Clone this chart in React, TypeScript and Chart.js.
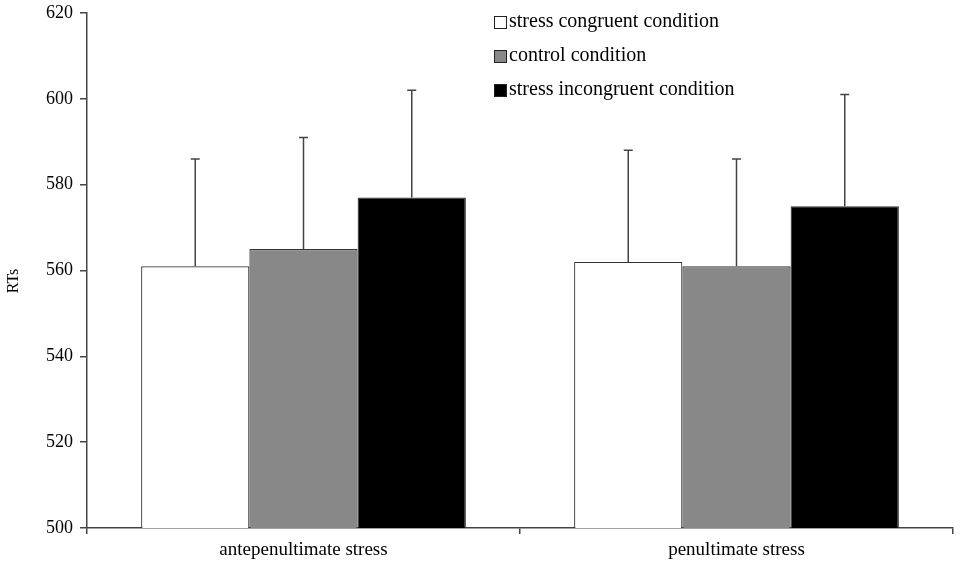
import React, { useEffect, useRef } from "react";
import { Chart, registerables } from "chart.js";

Chart.register(...registerables);

const categories = ["antepenultimate stress", "penultimate stress"];
const seriesLabels = ["stress congruent condition", "control condition", "stress incongruent condition"];
const congruent = [561, 562];
const control = [565, 561];
const incongruent = [577, 575];
const congruentErr = [25, 26];
const controlErr = [26, 25];
const incongruentErr = [25, 26];
const colors = ["#ffffff", "#888888", "#000000"];
const yTitle = "RTs";
const yMin = 500;
const yMax = 620;
const yStep = 20;

const FONT = "'Liberation Serif', 'DejaVu Serif', serif";

const errorBarPlugin = {
  id: "errorBars",
  afterDatasetsDraw(chart: any) {
    const ctx = chart.ctx;
    const yScale = chart.scales.y;
    chart.data.datasets.forEach((ds: any, di: number) => {
      const meta = chart.getDatasetMeta(di);
      meta.data.forEach((bar: any, i: number) => {
        const v = ds.data[i];
        const e = ds.errors[i];
        const yTop = yScale.getPixelForValue(v + e);
        const yBase = yScale.getPixelForValue(v);
        ctx.save();
        ctx.strokeStyle = "#444444";
        ctx.lineWidth = 1.5;
        ctx.beginPath();
        ctx.moveTo(bar.x, yBase);
        ctx.lineTo(bar.x, yTop);
        ctx.moveTo(bar.x - 4.5, yTop);
        ctx.lineTo(bar.x + 4.5, yTop);
        ctx.stroke();
        ctx.restore();
      });
    });
  },
};

const legendPlugin = {
  id: "customLegend",
  afterDraw(chart: any) {
    const ctx = chart.ctx;
    const x0 = 494;
    const ys = [22, 56, 90];
    ctx.save();
    chart.data.datasets.forEach((ds: any, i: number) => {
      const y = ys[i];
      ctx.fillStyle = ds.backgroundColor;
      ctx.fillRect(x0, y - 6, 13, 13);
      ctx.strokeStyle = "#222222";
      ctx.lineWidth = 1;
      ctx.strokeRect(x0 + 0.5, y - 5.5, 12, 12);
      ctx.fillStyle = "#000000";
      ctx.font = `20px ${FONT}`;
      ctx.textBaseline = "middle";
      ctx.textAlign = "left";
      ctx.fillText(ds.label, x0 + 15, y);
    });
    // y-axis title
    ctx.translate(14, 281);
    ctx.rotate(-Math.PI / 2);
    ctx.font = `16px ${FONT}`;
    ctx.textAlign = "center";
    ctx.textBaseline = "middle";
    ctx.fillStyle = "#000000";
    ctx.fillText(yTitle, 0, 0);
    ctx.restore();
  },
};

export default function App() {
  const ref = useRef<HTMLCanvasElement>(null);
  useEffect(() => {
    document.body.style.margin = "0";
    const chart = new Chart(ref.current!, {
      type: "bar",
      data: {
        labels: categories,
        datasets: [
          { label: seriesLabels[0], data: congruent, errors: congruentErr, backgroundColor: colors[0] },
          { label: seriesLabels[1], data: control, errors: controlErr, backgroundColor: colors[1] },
          { label: seriesLabels[2], data: incongruent, errors: incongruentErr, backgroundColor: colors[2] },
        ].map((d: any) => ({
          ...d,
          borderColor: "#333333",
          borderWidth: 1.2,
          categoryPercentage: 0.75,
          barPercentage: 1.0,
        })),
      } as any,
      options: {
        animation: false,
        responsive: false,
        layout: { padding: { left: 0, top: 13, right: 7, bottom: 0 } },
        plugins: { legend: { display: false }, tooltip: { enabled: false } },
        scales: {
          x: {
            grid: {
              display: true,
              drawOnChartArea: false,
              drawTicks: true,
              tickLength: 6,
              color: "#444444",
              lineWidth: 1.5,
              offset: true,
            },
            border: { display: true, color: "#444444", width: 1.5 },
            ticks: { color: "#000000", font: { family: FONT, size: 19 }, padding: 5 },
            afterFit(scale: any) {
              scale.height = 39;
              scale.paddingLeft = 0;
              scale.paddingRight = 0;
            },
          },
          y: {
            min: yMin,
            max: yMax,
            ticks: { stepSize: yStep, color: "#000000", font: { family: FONT, size: 18 }, padding: 7 },
            grid: {
              display: true,
              drawOnChartArea: false,
              drawTicks: true,
              tickLength: 7,
              color: "#444444",
              lineWidth: 1.5,
            },
            border: { display: true, color: "#444444", width: 1.5 },
            afterFit(scale: any) {
              scale.width = 87;
              scale.paddingTop = 0;
              scale.paddingBottom = 0;
            },
          },
        },
      } as any,
      plugins: [errorBarPlugin, legendPlugin],
    });
    return () => chart.destroy();
  }, []);
  return (
    <div style={{ position: "absolute", left: 0, top: 0, width: 960, height: 567, background: "#fff" }}>
      <canvas ref={ref} width={960} height={567} style={{ width: 960, height: 567 }} />
    </div>
  );
}
